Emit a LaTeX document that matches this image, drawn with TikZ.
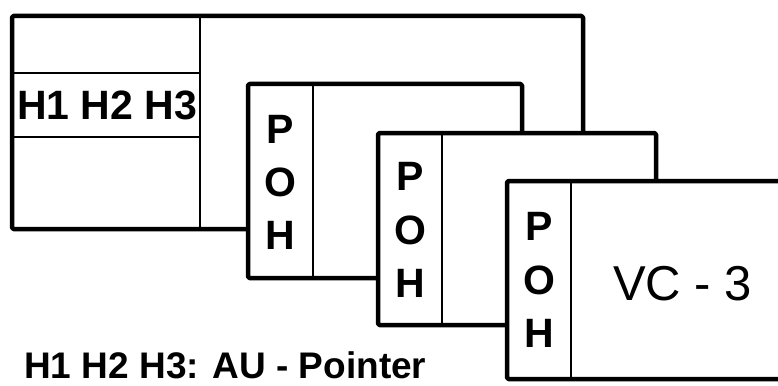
\documentclass[tikz,border=0pt]{standalone}
\usepackage{fontspec}
\setmainfont{Liberation Sans}
\begin{document}
\begin{tikzpicture}[x=1pt,y=-1pt,
  frame/.style={draw,line width=4.5pt,fill=white,line join=round,rounded corners=1.5pt},
  divider/.style={line width=1.5pt},
  hline/.style={line width=2pt},
  pohletter/.style={inner sep=0pt,anchor=base,font=\fontsize{41}{41}\selectfont\bfseries},
  htext/.style={inner sep=0pt,anchor=base west,font=\fontsize{41}{41}\selectfont\bfseries},
  captext/.style={inner sep=0pt,anchor=base west,text depth=0pt,font=\fontsize{37}{37}\selectfont\bfseries},
  vctext/.style={inner sep=0pt,anchor=base,font=\fontsize{49}{49}\selectfont}]
\useasboundingbox (0,0) rectangle (778,385);
\clip (0,0) rectangle (778,385);
% frame 1
\draw[frame] (12,16) rectangle (583,229);
\draw[divider] (200,16) -- (200,229);
\draw[hline] (12,73) -- (200,73);
\draw[hline] (12,137) -- (200,137);
\node[htext] (h123) at (17,119) {H1 H2 H3};
% frame 2
\draw[frame] (248,84) rectangle (522,278);
\draw[divider] (313,84) -- (313,278);
\node[pohletter] (p2) at (280.5,143) {P};
\node[pohletter] (o2) at (280.5,196) {O};
\node[pohletter] (h2) at (280.5,249) {H};
% frame 3
\draw[frame] (378,133) rectangle (656,325);
\draw[divider] (442,133) -- (442,325);
\node[pohletter] (p3) at (410,190) {P};
\node[pohletter] (o3) at (410,244) {O};
\node[pohletter] (h3) at (410,297) {H};
% frame 4
\draw[frame] (507,181) rectangle (800,379);
\draw[divider] (571,181) -- (571,379);
\node[pohletter] (p4) at (539,240) {P};
\node[pohletter] (o4) at (539,294) {O};
\node[pohletter] (h4) at (539,347) {H};
\node[vctext] (vc) at (682.5,300) {VC - 3};
% caption
\node[captext] (cap) at (24,378) {H1 H2 H3: AU - Pointer};
\end{tikzpicture}
\end{document}
